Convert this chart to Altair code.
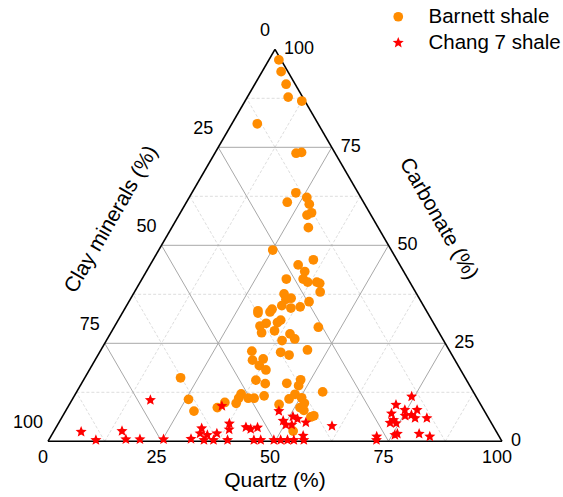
import altair as alt
import pandas as pd

# Barnett shale samples: quartz and carbonate content (%); clay minerals make up the rest
barnett_quartz = [
    2.2, 4.2, 6.9, 9.0, 12.5, 5.6, 17.9, 19.0, 22.9, 22.2,
    25.9, 27.3, 28.9, 28.2, 30.1, 25.1, 35.3, 32.6, 34.9, 31.8,
    35.5, 36.9, 38.9, 39.7, 40.9, 33.2, 35.3, 34.3, 39.7, 34.2,
    36.5, 38.4, 29.6, 29.9, 32.5, 32.4, 35.8, 35.4, 33.0, 32.0,
    33.2, 35.8, 45.0, 39.6, 41.3, 38.7, 33.4, 39.9, 42.1, 45.5,
    34.7, 36.9, 36.9, 38.9, 21.1, 38.0, 40.5, 45.2, 47.8, 48.1,
    54.2, 25.6, 36.5, 36.5, 36.6, 38.6, 39.9, 41.8, 34.0, 33.0,
    28.3, 47.7, 48.4, 50.3, 51.6, 46.2, 51.2, 52.4, 55.3, 54.8,
    52.7,
]
barnett_carbonate = [
    97.3, 94.3, 91.1, 87.8, 86.8, 81.0, 73.5, 73.7, 63.4, 61.0,
    62.2, 60.5, 58.3, 57.7, 54.5, 48.8, 46.3, 45.0, 43.3, 41.4,
    41.4, 40.6, 40.6, 40.3, 38.1, 37.6, 36.5, 36.2, 35.6, 34.6,
    34.0, 34.3, 33.3, 32.7, 33.7, 33.0, 30.9, 30.3, 30.1, 29.4,
    27.7, 28.2, 29.1, 27.4, 26.1, 25.7, 23.0, 22.7, 22.0, 23.3,
    20.7, 21.0, 19.3, 18.2, 16.2, 15.6, 14.7, 14.8, 15.7, 14.2,
    12.6, 10.7, 12.1, 11.0, 9.7, 11.0, 11.0, 11.6, 9.9, 8.6,
    7.7, 10.8, 12.0, 11.1, 9.7, 9.4, 8.6, 7.9, 6.5, 6.2,
    2.6,
]

# Chang 7 shale samples
chang7_quartz = [
    6.1, 10.4, 15.0, 16.9, 20.0, 17.3, 25.2, 31.2, 32.2, 32.5,
    34.3, 36.2, 33.8, 37.7, 38.4, 41.8, 43.1, 44.4, 47.0, 49.2,
    50.8, 52.1, 51.6, 50.3, 54.4, 60.6, 55.5, 34.2, 36.3, 39.4,
    45.2, 46.7, 49.6, 51.1, 52.6, 54.0, 56.2,
    74.4, 72.0, 72.1, 74.6, 77.3, 75.4, 76.7, 77.9, 80.5, 73.4,
    73.0, 74.4, 76.0, 75.6, 80.8, 83.5, 71.8, 72.2,
]
chang7_carbonate = [
    2.4, 0.3, 2.6, 0.5, 0.5, 10.5, 0.5, 0.6, 3.3, 2.0,
    1.6, 2.0, 9.0, 4.5, 3.0, 3.6, 3.1, 3.5, 7.7, 5.2,
    6.3, 5.7, 4.2, 4.2, 4.8, 3.9, 1.4, 0.3, 0.3, 0.3,
    0.3, 0.3, 0.3, 0.3, 0.3, 0.3, 0.3,
    11.4, 9.3, 7.1, 8.0, 8.0, 6.5, 6.7, 5.9, 5.9, 5.4,
    4.7, 4.6, 1.9, 1.6, 1.9, 1.2, 1.2, 0.3,
]

SERIES = ["Barnett shale", "Chang 7 shale"]
SERIES_COLORS = ["#FF8C00", "#FF0000"]
STAR = ("M0,-1L0.26,-0.36L0.951,-0.309L0.42,0.137L0.588,0.809L0,0.44"
        "L-0.588,0.809L-0.42,0.137L-0.951,-0.309L-0.26,-0.36Z")

tick_values = [0, 25, 50, 75, 100]
grid_levels = [12.5, 25, 37.5, 50, 62.5, 75, 87.5]

FONT = "Liberation Sans, Arial, sans-serif"
W, H = 563, 497

samples = pd.concat([
    pd.DataFrame({"series": SERIES[0], "quartz": barnett_quartz,
                  "carbonate": barnett_carbonate}),
    pd.DataFrame({"series": SERIES[1], "quartz": chang7_quartz,
                  "carbonate": chang7_carbonate}),
], ignore_index=True)

# grid segments in composition space (quartz, carbonate)
grid_rows = []
for v in grid_levels:
    major = v % 25 == 0
    grid_rows.append(dict(q1=0, c1=v, q2=100 - v, c2=v, major=major))        # constant carbonate
    grid_rows.append(dict(q1=v, c1=0, q2=v, c2=100 - v, major=major))        # constant quartz
    grid_rows.append(dict(q1=100 - v, c1=0, q2=0, c2=100 - v, major=major))  # constant clay
grid = pd.DataFrame(grid_rows)

edges = pd.DataFrame(dict(q1=[0, 100, 0], c1=[0, 0, 100], q2=[100, 0, 0], c2=[0, 100, 0]))

# ternary -> cartesian: x = quartz + carbonate/2, y = carbonate
x_scale = alt.Scale(domain=[-48 / 4.54, (W - 48) / 4.54], nice=False, zero=False)
y_scale = alt.Scale(domain=[-(H - 441.3) / 3.92, 441.3 / 3.92], nice=False, zero=False)


def seg_layer(df, **mark_kw):
    return alt.Chart(df).transform_calculate(
        x1="datum.q1 + datum.c1 / 2", x2="datum.q2 + datum.c2 / 2",
    ).mark_rule(**mark_kw).encode(
        x=alt.X("x1:Q", scale=x_scale, axis=None),
        x2="x2:Q",
        y=alt.Y("c1:Q", scale=y_scale, axis=None),
        y2="c2:Q",
    )


minor_grid = seg_layer(grid[~grid.major], color="#d4d4d4", strokeWidth=0.8, strokeDash=[3, 2])
major_grid = seg_layer(grid[grid.major], color="#a8a8a8", strokeWidth=1)
frame = seg_layer(edges, color="#000000", strokeWidth=1.6)

legend = alt.Legend(
    title=None, orient="none", legendX=388, legendY=6.5, padding=0,
    labelFont=FONT, labelFontSize=20.5, labelColor="#000000",
    symbolSize=45, symbolStrokeWidth=0, labelOffset=20, rowPadding=5,
)

points = alt.Chart(samples).transform_calculate(
    px="datum.quartz + datum.carbonate / 2"
).mark_point(filled=True, opacity=1, strokeWidth=0).encode(
    x=alt.X("px:Q", scale=x_scale, axis=None),
    y=alt.Y("carbonate:Q", scale=y_scale, axis=None),
    color=alt.Color("series:N", scale=alt.Scale(domain=SERIES, range=SERIES_COLORS), legend=legend),
    shape=alt.Shape("series:N", scale=alt.Scale(domain=SERIES, range=["circle", STAR]), legend=legend),
    size=alt.Size("series:N", scale=alt.Scale(domain=SERIES, range=[95, 135]), legend=None),
)

ticks = pd.DataFrame({"t": tick_values})


def tick_layer(qexpr, cexpr, **text_kw):
    return alt.Chart(ticks).transform_calculate(
        q=qexpr, c=cexpr
    ).transform_calculate(
        px="datum.q + datum.c / 2"
    ).mark_text(font=FONT, fontSize=18, color="#000000", baseline="middle", **text_kw).encode(
        x=alt.X("px:Q", scale=x_scale, axis=None),
        y=alt.Y("c:Q", scale=y_scale, axis=None),
        text="t:Q",
    )


clay_ticks = tick_layer("0", "100 - datum.t", align="right", dx=-5, dy=-18)
carb_ticks = tick_layer("100 - datum.t", "datum.t", align="left", dx=9)
quartz_ticks = tick_layer("datum.t", "0", align="center", dx=-5, dy=16.5)

titles = pd.DataFrame({
    "label": ["Clay minerals (%)", "Carbonate (%)", "Quartz (%)"],
})


def title_layer(label, xpix, ypix, angle):
    return alt.Chart(titles[titles.label == label]).mark_text(
        font=FONT, fontSize=21, color="#000000", align="center", baseline="middle", angle=angle
    ).encode(x=alt.value(xpix), y=alt.value(ypix), text="label:N")


axis_titles = (
    title_layer("Clay minerals (%)", 111.5, 219.5, 300)
    + title_layer("Carbonate (%)", 438.5, 219, 60)
    + title_layer("Quartz (%)", 275, 481, 0)
)

chart = alt.layer(
    minor_grid, major_grid, frame, points,
    clay_ticks, carb_ticks, quartz_ticks, axis_titles,
).properties(
    width=W, height=H, padding=0, autosize=alt.AutoSizeParams(type="none"),
).configure_view(
    stroke=None
)

chart.save("out.html", embed_options={"renderer": "svg", "actions": False})
